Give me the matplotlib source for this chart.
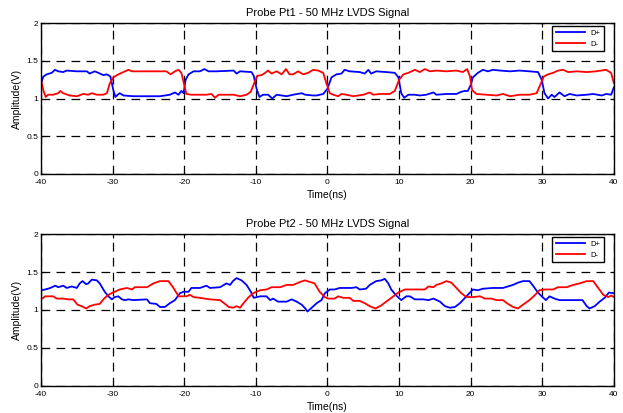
"""Probe Pt1 / Pt2 - 50 MHz LVDS differential signal (D+ / D-)."""

import matplotlib

matplotlib.use("Agg")
import matplotlib.pyplot as plt

plt.rcParams["font.family"] = ["Liberation Sans", "DejaVu Sans"]
plt.rcParams["axes.unicode_minus"] = False

# --- Probe Pt1 -------------------------------------------------------------
pt1_dp_t = [-40, -39.67, -39.2, -38.5, -38.05, -37.6, -36.9, -36.4, -35.0, -33.6,
            -33.2, -32.5, -32.0, -31.3, -30.8, -30.3, -29.9, -29.6, -29.3, -29.0,
            -28.5, -27.1, -25.2, -23.4, -22.0, -21.3, -20.8, -20.4, -20.1, -19.8,
            -19.4, -18.7, -17.8, -17.2, -16.6, -15.5, -13.1, -12.7, -12.2, -10.6,
            -10.3, -9.9, -9.5, -9.0, -8.3, -7.7, -7.1, -5.7, -4.8, -3.6,
            -3.1, -2.0, -1.5, -0.6, 0.0, 0.56, 1.26, 1.95, 2.4, 3.1,
            4.5, 5.2, 5.7, 6.1, 6.8, 8.2, 9.4, 9.9, 10.3, 10.7,
            11.3, 12.2, 12.9, 13.8, 14.8, 15.2, 16.6, 18.0, 18.7, 19.2,
            19.6, 20.0, 20.3, 21.0, 21.7, 22.4, 23.1, 24.1, 25.5, 26.8,
            28.2, 29.4, 29.9, 30.3, 30.8, 31.3, 31.7, 32.4, 33.1, 33.8,
            34.8, 36.2, 37.1, 38.3, 38.9, 39.6, 40]
pt1_dp_v = [1.20, 1.29, 1.32, 1.34, 1.38, 1.36, 1.35, 1.37, 1.36, 1.36,
            1.33, 1.36, 1.34, 1.31, 1.32, 1.29, 1.11, 1.02, 1.05, 1.07,
            1.04, 1.03, 1.03, 1.03, 1.05, 1.08, 1.05, 1.10, 1.07, 1.25,
            1.32, 1.36, 1.36, 1.39, 1.36, 1.36, 1.37, 1.33, 1.36, 1.35,
            1.30, 1.13, 1.02, 1.05, 1.05, 1.00, 1.05, 1.03, 1.05, 1.07,
            1.05, 1.04, 1.04, 1.06, 1.13, 1.28, 1.32, 1.33, 1.38, 1.36,
            1.35, 1.33, 1.38, 1.33, 1.36, 1.35, 1.34, 1.28, 1.07, 1.01,
            1.05, 1.05, 1.04, 1.05, 1.08, 1.05, 1.06, 1.06, 1.09, 1.10,
            1.10, 1.18, 1.28, 1.34, 1.38, 1.36, 1.38, 1.37, 1.36, 1.37,
            1.36, 1.35, 1.25, 1.07, 1.00, 1.05, 1.02, 1.08, 1.03, 1.06,
            1.04, 1.05, 1.06, 1.04, 1.06, 1.05, 1.15]

pt1_dm_t = [-40, -39.67, -39.35, -39.0, -38.3, -37.6, -37.3, -36.9, -36.0, -35.0,
            -34.1, -33.4, -32.9, -32.2, -31.3, -30.8, -30.4, -29.9, -29.2, -28.5,
            -27.8, -27.3, -24.8, -22.5, -21.9, -21.3, -20.8, -20.4, -20.0, -19.7,
            -19.0, -16.9, -16.2, -15.7, -15.2, -14.1, -13.1, -12.2, -11.3, -10.7,
            -10.3, -9.8, -9.2, -8.7, -8.3, -7.8, -7.1, -6.4, -5.8, -5.3,
            -4.8, -4.1, -3.4, -2.7, -2.0, -1.3, -0.6, -0.14, 0.33, 0.8,
            1.5, 1.95, 2.65, 3.6, 5.0, 5.9, 6.4, 7.3, 8.7, 9.4,
            10.0, 10.6, 11.3, 12.2, 12.9, 13.6, 14.3, 15.2, 16.6, 18.0,
            18.9, 19.5, 19.9, 20.2, 20.8, 22.2, 23.6, 24.5, 25.5, 26.8,
            28.2, 29.2, 29.7, 30.2, 30.8, 31.5, 32.2, 32.9, 33.6, 34.8,
            36.2, 37.5, 38.9, 39.6, 40]
pt1_dm_v = [1.25, 1.11, 1.02, 1.05, 1.05, 1.07, 1.10, 1.07, 1.04, 1.03,
            1.06, 1.05, 1.07, 1.05, 1.05, 1.07, 1.20, 1.28, 1.32, 1.35,
            1.38, 1.36, 1.36, 1.36, 1.32, 1.36, 1.38, 1.34, 1.18, 1.06,
            1.05, 1.05, 1.06, 1.01, 1.05, 1.05, 1.05, 1.03, 1.05, 1.09,
            1.19, 1.30, 1.31, 1.34, 1.37, 1.33, 1.36, 1.32, 1.39, 1.32,
            1.32, 1.36, 1.32, 1.34, 1.38, 1.37, 1.34, 1.20, 1.07, 1.05,
            1.03, 1.06, 1.05, 1.03, 1.05, 1.08, 1.05, 1.06, 1.06, 1.10,
            1.25, 1.32, 1.34, 1.38, 1.35, 1.39, 1.36, 1.37, 1.36, 1.37,
            1.35, 1.39, 1.29, 1.11, 1.06, 1.05, 1.04, 1.06, 1.03, 1.05,
            1.05, 1.07, 1.18, 1.29, 1.32, 1.34, 1.37, 1.38, 1.35, 1.36,
            1.35, 1.36, 1.38, 1.34, 1.20]

# --- Probe Pt2 -------------------------------------------------------------
pt2_dp_t = [-40, -39.4, -38.7, -38.0, -37.6, -36.9, -36.4, -35.7, -35.0, -34.6,
            -34.2, -33.7, -33.4, -32.9, -32.2, -31.8, -31.1, -30.6, -30.1, -29.7,
            -29.2, -28.7, -28.3, -27.8, -27.1, -25.2, -24.8, -23.9, -23.4, -22.7,
            -22.0, -21.3, -20.6, -20.1, -19.4, -19.0, -17.8, -16.9, -16.4, -15.0,
            -14.1, -13.6, -13.2, -12.7, -12.0, -11.3, -10.7, -10.3, -9.4, -8.5,
            -8.0, -7.6, -6.9, -5.7, -5.0, -4.3, -3.6, -3.1, -2.8, -2.2,
            -1.5, -0.84, -0.37, 0.33, 1.0, 1.7, 2.65, 3.35, 4.05, 4.5,
            5.4, 5.9, 6.8, 7.5, 8.0, 8.5, 8.9, 9.6, 10.3, 11.0,
            11.5, 12.2, 13.4, 14.1, 14.8, 15.7, 16.4, 17.1, 17.8, 18.5,
            19.2, 19.9, 20.3, 21.0, 21.7, 23.1, 24.5, 25.2, 25.9, 26.6,
            27.3, 28.2, 28.7, 29.3, 29.9, 30.5, 31.0, 31.7, 32.4, 33.4,
            34.0, 35.0, 35.6, 36.2, 36.6, 37.3, 38.0, 38.7, 39.3, 40]
pt2_dp_v = [1.26, 1.27, 1.29, 1.32, 1.30, 1.32, 1.29, 1.31, 1.29, 1.35,
            1.38, 1.34, 1.35, 1.40, 1.39, 1.35, 1.24, 1.18, 1.14, 1.17,
            1.18, 1.14, 1.13, 1.14, 1.13, 1.14, 1.09, 1.08, 1.04, 1.04,
            1.09, 1.13, 1.22, 1.24, 1.24, 1.29, 1.29, 1.32, 1.29, 1.30,
            1.35, 1.33, 1.38, 1.42, 1.39, 1.33, 1.24, 1.16, 1.18, 1.18,
            1.13, 1.15, 1.11, 1.11, 1.14, 1.11, 1.07, 1.02, 0.98, 1.03,
            1.09, 1.13, 1.22, 1.27, 1.27, 1.29, 1.29, 1.29, 1.30, 1.27,
            1.28, 1.33, 1.38, 1.39, 1.41, 1.35, 1.27, 1.19, 1.13, 1.18,
            1.18, 1.14, 1.14, 1.13, 1.15, 1.11, 1.05, 1.03, 1.04, 1.09,
            1.16, 1.23, 1.27, 1.26, 1.28, 1.29, 1.29, 1.31, 1.33, 1.36,
            1.38, 1.38, 1.32, 1.24, 1.18, 1.13, 1.18, 1.15, 1.13, 1.13,
            1.13, 1.13, 1.13, 1.05, 1.02, 1.05, 1.11, 1.16, 1.23, 1.22]

pt2_dm_t = [-40, -39.4, -38.3, -37.8, -36.9, -36.2, -35.5, -34.9, -34.3, -33.7,
            -33.2, -32.5, -31.8, -31.1, -30.4, -29.7, -29.0, -28.0, -27.3, -26.9,
            -25.2, -24.3, -23.4, -22.2, -21.5, -20.8, -19.7, -19.2, -18.7, -17.8,
            -16.4, -15.0, -14.3, -13.8, -13.2, -12.7, -12.2, -11.8, -11.1, -10.4,
            -9.4, -8.5, -7.8, -6.6, -5.7, -4.8, -3.8, -3.1, -2.5, -1.8,
            -1.1, -0.37, 0.1, 1.0, 1.5, 2.2, 3.1, 3.6, 4.5, 5.2,
            5.9, 6.7, 7.5, 8.2, 9.2, 9.9, 10.8, 12.2, 13.6, 14.1,
            14.8, 15.2, 15.9, 16.6, 17.3, 18.0, 18.7, 19.4, 20.3, 21.3,
            22.0, 22.9, 23.6, 24.5, 25.2, 25.9, 26.6, 27.3, 28.2, 28.9,
            29.6, 30.3, 31.5, 32.2, 33.4, 34.3, 35.2, 36.2, 37.1, 37.8,
            38.5, 39.2, 39.6, 40]
pt2_dm_v = [1.14, 1.18, 1.18, 1.15, 1.15, 1.14, 1.14, 1.07, 1.05, 1.02,
            1.05, 1.07, 1.08, 1.16, 1.21, 1.24, 1.27, 1.29, 1.27, 1.30,
            1.30, 1.35, 1.38, 1.38, 1.29, 1.18, 1.18, 1.20, 1.17, 1.16,
            1.14, 1.13, 1.08, 1.04, 1.03, 1.05, 1.03, 1.08, 1.16, 1.22,
            1.26, 1.27, 1.30, 1.30, 1.33, 1.33, 1.37, 1.39, 1.37, 1.35,
            1.24, 1.17, 1.15, 1.15, 1.18, 1.16, 1.16, 1.12, 1.12, 1.09,
            1.05, 1.02, 1.06, 1.11, 1.18, 1.23, 1.27, 1.27, 1.27, 1.31,
            1.30, 1.33, 1.35, 1.38, 1.36, 1.29, 1.22, 1.17, 1.17, 1.18,
            1.15, 1.15, 1.13, 1.13, 1.08, 1.04, 1.02, 1.07, 1.13, 1.19,
            1.26, 1.27, 1.27, 1.30, 1.30, 1.33, 1.35, 1.38, 1.38, 1.29,
            1.20, 1.17, 1.19, 1.17]

x_ticks = [-40, -30, -20, -10, 0, 10, 20, 30, 40]
y_ticks = [0, 0.5, 1, 1.5, 2]
y_tick_labels = ["0", "0.5", "1", "1.5", "2"]

panels = [
    ("Probe Pt1 - 50 MHz LVDS Signal", pt1_dp_t, pt1_dp_v, pt1_dm_t, pt1_dm_v),
    ("Probe Pt2 - 50 MHz LVDS Signal", pt2_dp_t, pt2_dp_v, pt2_dm_t, pt2_dm_v),
]

fig = plt.figure(figsize=(6.23, 4.13), dpi=100)
rects = [[0.0658, 0.5787, 0.9197, 0.3656], [0.0658, 0.0654, 0.9197, 0.368]]

for rect, (title, dp_t, dp_v, dm_t, dm_v) in zip(rects, panels):
    ax = fig.add_axes(rect)
    ax.plot(dp_t, dp_v, color="#0000ff", lw=1.3, label="D+")
    ax.plot(dm_t, dm_v, color="#ff0000", lw=1.3, label="D-")
    ax.set_xlim(-40, 40)
    ax.set_ylim(0, 2)
    ax.set_xticks(x_ticks)
    ax.set_yticks(y_ticks)
    ax.set_yticklabels(y_tick_labels)
    ax.tick_params(direction="in", length=3, width=0.8, labelsize=6,
                   top=True, right=True)
    ax.tick_params(axis="x", pad=3.5)
    ax.tick_params(axis="y", pad=2)
    ax.grid(True, color="black", linestyle=(0, (7, 5)), linewidth=0.9)
    for sp in ax.spines.values():
        sp.set_linewidth(1.0)
    ax.set_title(title, fontsize=8, pad=5)
    ax.set_xlabel("Time(ns)", fontsize=7.5, labelpad=3)
    ax.set_ylabel("Amplitude(V)", fontsize=7.5, labelpad=3)
    leg = ax.legend(loc="upper right", bbox_to_anchor=(0.983, 0.98),
                    borderaxespad=0, fontsize=5.5, frameon=True, fancybox=False,
                    edgecolor="black", framealpha=1, handlelength=3.8,
                    borderpad=0.45, labelspacing=0.45, handletextpad=0.8)
    leg.get_frame().set_linewidth(1.0)

fig.savefig("out.png", dpi=100)
